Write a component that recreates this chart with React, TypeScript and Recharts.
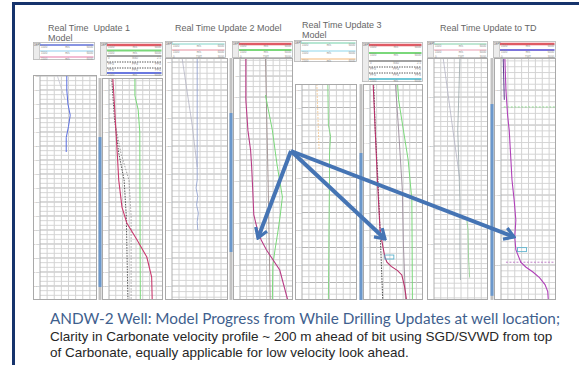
import React from 'react';
import { ScatterChart, Scatter, XAxis, YAxis, CartesianGrid, ReferenceLine } from 'recharts';

type Pt = { d: number; v: number };

// depth (m) at the bottom of every log track
const TD = 2500;

// ---- Real Time Update 1 : model ----
const p1Vint: Pt[] = [
  { d: 893, v: 47 }, { d: 1000, v: 47 }, { d: 1100, v: 49 }, { d: 1180, v: 53 },
  { d: 1260, v: 50 }, { d: 1340, v: 46 }, { d: 1443, v: 46 },
];
const p1Trend: Pt[] = [{ d: 893, v: 30 }, { d: 1070, v: 44 }];

// ---- Real Time Update 1 : processing ----
const p2Vel: Pt[] = [
  { d: 914, v: 7 }, { d: 1100, v: 10 }, { d: 1300, v: 13 }, { d: 1500, v: 16 },
  { d: 1643, v: 18 }, { d: 1836, v: 24 }, { d: 1950, v: 33 }, { d: 2071, v: 52 },
  { d: 2193, v: 70 }, { d: 2336, v: 79 }, { d: 2500, v: 80 },
];
const p2Low: Pt[] = [
  { d: 914, v: 5 }, { d: 1200, v: 10 }, { d: 1450, v: 18 }, { d: 1643, v: 28 },
  { d: 1900, v: 32 }, { d: 2500, v: 35 },
];
const p2High: Pt[] = [
  { d: 1250, v: 12 }, { d: 1450, v: 22 }, { d: 1643, v: 37 }, { d: 1900, v: 41 }, { d: 2500, v: 41 },
];
const p2Green: Pt[] = [
  { d: 914, v: 48 }, { d: 1040, v: 48 }, { d: 1140, v: 54 }, { d: 1300, v: 57 }, { d: 2500, v: 58 },
];
const p2Coverage = [1336, 2407];

// ---- Real Time Update 2 : model ----
const p3Trend: Pt[] = [{ d: 771, v: 18 }, { d: 1250, v: 36 }, { d: 1550, v: 45 }];
const p3Vint: Pt[] = [
  { d: 771, v: 45 }, { d: 1643, v: 45 }, { d: 1700, v: 43 }, { d: 1760, v: 46 },
  { d: 1820, v: 44 }, { d: 1880, v: 47 }, { d: 1940, v: 45 }, { d: 2000, v: 46 },
];

// ---- Real Time Update 2 : processing ----
const p4Vel: Pt[] = [
  { d: 771, v: 11 }, { d: 1070, v: 11 }, { d: 1290, v: 15 }, { d: 1430, v: 20 },
  { d: 1550, v: 22 }, { d: 1710, v: 24 }, { d: 1890, v: 26 }, { d: 2000, v: 33 },
  { d: 2071, v: 40 }, { d: 2143, v: 50 }, { d: 2286, v: 75 }, { d: 2500, v: 90 },
];
const p4Trend: Pt[] = [{ d: 771, v: 48 }, { d: 1643, v: 53 }, { d: 2500, v: 57 }];
const p4Green: Pt[] = [
  { d: 1036, v: 48 }, { d: 1286, v: 61 }, { d: 1536, v: 70 }, { d: 1764, v: 80 },
  { d: 1893, v: 76 }, { d: 2000, v: 72 }, { d: 2143, v: 66 }, { d: 2250, v: 62 }, { d: 2500, v: 61 },
];
const p4Coverage = [1164, 2157];

// ---- Real Time Update 3 : model ----
const p5Orange: Pt[] = [{ d: 957, v: 27 }, { d: 1430, v: 31 }];
const p5Green: Pt[] = [
  { d: 957, v: 47 }, { d: 1250, v: 48 }, { d: 1330, v: 52 }, { d: 1450, v: 50 },
  { d: 1643, v: 50 }, { d: 2000, v: 49 }, { d: 2500, v: 48 },
];

// ---- Real Time Update 3 : processing ----
const p6Dash: Pt[] = [
  { d: 957, v: 7 }, { d: 1300, v: 10 }, { d: 1643, v: 15 }, { d: 2000, v: 19 }, { d: 2500, v: 24 },
];
const p6Vel: Pt[] = [
  { d: 957, v: 6 }, { d: 1300, v: 10 }, { d: 1643, v: 14 }, { d: 2000, v: 19 },
  { d: 2071, v: 22 }, { d: 2193, v: 28 }, { d: 2230, v: 32 }, { d: 2260, v: 40 },
  { d: 2290, v: 52 }, { d: 2321, v: 60 }, { d: 2400, v: 65 }, { d: 2500, v: 69 },
];
const p6Trend: Pt[] = [
  { d: 957, v: 48 }, { d: 1286, v: 54 }, { d: 1714, v: 61 }, { d: 2100, v: 63 }, { d: 2500, v: 67 },
];
const p6Green: Pt[] = [
  { d: 957, v: 52 }, { d: 1070, v: 54 }, { d: 1286, v: 63 }, { d: 1500, v: 72 },
  { d: 1786, v: 79 }, { d: 2500, v: 80 },
];
const p6Boxes: Pt[] = [{ d: 2193, v: 28 }];
const p6Coverage = [1450, 2500];

// ---- Real Time Update to TD : model ----
const p7Trend: Pt[] = [{ d: 771, v: 17 }, { d: 1286, v: 35 }, { d: 1643, v: 48 }];
const p7Vint: Pt[] = [
  { d: 771, v: 48 }, { d: 1286, v: 44 }, { d: 1786, v: 48 }, { d: 2143, v: 48 }, { d: 2357, v: 49 },
];
const p7Green: Pt[] = [{ d: 1936, v: 61 }, { d: 2000, v: 63 }, { d: 2200, v: 64 }, { d: 2340, v: 66 }];

// ---- Real Time Update to TD : processing ----
const p8Vel: Pt[] = [
  { d: 771, v: 7 }, { d: 1000, v: 9 }, { d: 1180, v: 12 }, { d: 1290, v: 15 },
  { d: 1500, v: 18 }, { d: 1643, v: 20 }, { d: 1790, v: 24 }, { d: 1930, v: 27 },
  { d: 2050, v: 25 }, { d: 2140, v: 27 }, { d: 2230, v: 36 }, { d: 2264, v: 45 },
  { d: 2300, v: 58 }, { d: 2340, v: 70 }, { d: 2390, v: 80 }, { d: 2440, v: 85 }, { d: 2500, v: 86 },
];
const p8Top: Pt[] = [{ d: 771, v: 4 }, { d: 1070, v: 6 }];
const p8CarbTop: Pt[] = [{ d: 1121, v: 5 }, { d: 1121, v: 100 }];
const p8Bit: Pt[] = [{ d: 2230, v: 9 }, { d: 2230, v: 97 }];
const p8Boxes: Pt[] = [{ d: 2140, v: 30 }];
const p8Coverage = [1100, 2470];

// arrows, in slide units (0..579 x 0..365)
const arrowFrom = { x: 291, y: 151 };
const arrowTips = [
  { x: 258, y: 238 },
  { x: 385, y: 239 },
  { x: 514, y: 237 },
];

const titles = [
  { text: 'Real Time  Update 1', sub: 'Model', left: 48, top: 23 },
  { text: 'Real Time Update 2 Model', left: 175, top: 23 },
  { text: 'Real Time Update 3', sub: 'Model', left: 302, top: 20 },
  { text: 'Real Time Update to TD', left: 440, top: 23 },
];

// vertical grid divisions of each track
const valueTicks = [12.5, 25, 37.5, 50, 62.5, 75, 87.5];

const range = (start: number, end: number, step: number) => {
  const out: number[] = [];
  let t = Math.ceil(start / step - 1e-9) * step;
  for (; t <= end + 1e-9; t += step) out.push(+t.toFixed(2));
  return out;
};

const noDot = () => <g />;

const RED = '#e05a64';
const GREEN = '#7ad87a';
const ARROW = '#4574b4';

type HeaderRow = { y: number; color: string; w: number; dash?: string; labels: string[] };

type Curve = { data: Pt[]; color: string; width?: number; dash?: string };

type PanelSpec = {
  left: number;
  width: number;
  headLeft: number;
  headW: number;
  headTop: number;
  headH: number;
  rows: HeaderRow[];
  gridTop: number;
  dTop: number;
  step: number;
  minor: number;
  curves: Curve[];
  coverage?: number[];
  boxes?: Pt[];
};

const velLabels = ['1500', 'm/s', '6000'];
const ppgLabels = ['PPG', 'PPG', 'PPG'];

const panels: PanelSpec[] = [
  {
    left: 33, width: 64, headLeft: 33, headW: 62, headTop: 42, headH: 18,
    rows: [
      { y: 3, color: '#6070d8', w: 1.5, labels: velLabels },
      { y: 9, color: '#90d0f0', w: 1.2, labels: velLabels },
      { y: 15, color: '#e878a8', w: 1.2, labels: velLabels },
    ],
    gridTop: 75, dTop: 893, step: 100, minor: 100 / 3,
    curves: [
      { data: p1Trend, color: '#c4c4d0', width: 0.8 },
      { data: p1Vint, color: '#5a6ee0', width: 1 },
    ],
  },
  {
    left: 102, width: 61, headLeft: 100, headW: 63, headTop: 42, headH: 34,
    rows: [
      { y: 3, color: RED, w: 2.5, labels: velLabels },
      { y: 8.5, color: GREEN, w: 2, labels: velLabels },
      { y: 14, color: '#444', w: 1, labels: ['0', 'SGD', '2.5'] },
      { y: 20, color: '#333', w: 0.8, dash: '1.5 1', labels: ppgLabels },
      { y: 26, color: '#333', w: 0.8, dash: '1.5 1', labels: ppgLabels },
      { y: 31, color: '#6a78e0', w: 2, labels: velLabels },
    ],
    gridTop: 78, dTop: 914, step: 100, minor: 100 / 3,
    curves: [
      { data: p2High, color: '#8a8a8a', width: 0.8, dash: '1.5 1.5' },
      { data: p2Low, color: '#444', width: 0.9, dash: '1.5 1.2' },
      { data: p2Green, color: GREEN, width: 1 },
      { data: p2Vel, color: '#c93a6e', width: 1.1 },
    ],
    coverage: p2Coverage,
  },
  {
    left: 165, width: 63, headLeft: 165, headW: 61, headTop: 41, headH: 17,
    rows: [
      { y: 3, color: '#80d4c8', w: 1.2, labels: velLabels },
      { y: 9, color: '#e890a0', w: 1.2, labels: velLabels },
      { y: 14, color: 'none', w: 0, labels: ['0', 'TWT', '3000'] },
    ],
    gridTop: 58, dTop: 771, step: 200, minor: 40,
    curves: [
      { data: p3Trend, color: '#b4b4c4', width: 0.8 },
      { data: p3Vint, color: '#93a3cf', width: 0.9 },
    ],
  },
  {
    left: 233, width: 60, headLeft: 232, headW: 61, headTop: 41, headH: 17,
    rows: [
      { y: 3, color: RED, w: 2.5, labels: velLabels },
      { y: 9, color: GREEN, w: 1.8, labels: velLabels },
      { y: 14, color: 'none', w: 0, labels: ['0', 'TWT', '3000'] },
    ],
    gridTop: 58, dTop: 771, step: 150, minor: 37.5,
    curves: [
      { data: p4Trend, color: '#9c8c8c', width: 0.9 },
      { data: p4Green, color: GREEN, width: 1 },
      { data: p4Vel, color: '#b83c86', width: 1.1 },
    ],
    coverage: p4Coverage,
  },
  {
    left: 295, width: 62, headLeft: 294, headW: 63, headTop: 40, headH: 22,
    rows: [
      { y: 3, color: '#70d0a8', w: 1.2, labels: velLabels },
      { y: 11, color: '#90d8ec', w: 1.2, labels: velLabels },
      { y: 19, color: '#f4b878', w: 1.2, labels: velLabels },
    ],
    gridTop: 84, dTop: 957, step: 125, minor: 125 / 3,
    curves: [
      { data: p5Orange, color: '#f2c48c', width: 0.8, dash: '2 1' },
      { data: p5Green, color: '#86d486', width: 1 },
    ],
  },
  {
    left: 363, width: 60, headLeft: 362, headW: 61, headTop: 42, headH: 40,
    rows: [
      { y: 3, color: RED, w: 2.5, labels: velLabels },
      { y: 11, color: GREEN, w: 2, labels: velLabels },
      { y: 19, color: '#444', w: 1, labels: ['0', 'SGD', '2.5'] },
      { y: 25, color: '#333', w: 0.8, dash: '1.5 1', labels: ppgLabels },
      { y: 31, color: '#333', w: 0.8, dash: '1.5 1', labels: ppgLabels },
      { y: 37, color: '#70c8d8', w: 2, labels: velLabels },
    ],
    gridTop: 84, dTop: 957, step: 125, minor: 125 / 3,
    curves: [
      { data: p6Trend, color: '#9c8c9c', width: 0.9 },
      { data: p6Green, color: GREEN, width: 1 },
      { data: p6Dash, color: '#333', width: 0.9, dash: '1.5 1.2' },
      { data: p6Vel, color: '#b8306a', width: 1.1 },
    ],
    coverage: p6Coverage,
    boxes: p6Boxes,
  },
  {
    left: 427, width: 61, headLeft: 427, headW: 61, headTop: 41, headH: 17,
    rows: [
      { y: 3, color: '#80d0a8', w: 1.2, labels: velLabels },
      { y: 9, color: '#eaa0b4', w: 1.2, labels: velLabels },
      { y: 14, color: 'none', w: 0, labels: ['0', 'TWT', '3000'] },
    ],
    gridTop: 58, dTop: 771, step: 350, minor: 35,
    curves: [
      { data: p7Trend, color: '#b4b4c4', width: 0.8 },
      { data: p7Vint, color: '#a2aeb0', width: 0.9 },
      { data: p7Green, color: '#94d094', width: 0.9 },
    ],
  },
  {
    left: 494, width: 62, headLeft: 493, headW: 63, headTop: 41, headH: 17,
    rows: [
      { y: 3, color: RED, w: 2.5, labels: velLabels },
      { y: 9, color: '#7c74dc', w: 2, labels: velLabels },
      { y: 14, color: 'none', w: 0, labels: ['0', 'TWT', '3000'] },
    ],
    gridTop: 58, dTop: 771, step: 250, minor: 250 / 6,
    curves: [
      { data: p8CarbTop, color: '#8ed88e', width: 1, dash: '2 1.5' },
      { data: p8Bit, color: '#c080c8', width: 1, dash: '2 1.5' },
      { data: p8Top, color: '#5a3a8a', width: 1 },
      { data: p8Vel, color: '#b040b8', width: 1.1 },
    ],
    coverage: p8Coverage,
    boxes: p8Boxes,
  },
];

const Header = ({ width, height, rows }: { width: number; height: number; rows: HeaderRow[] }) => (
  <svg width={width} height={height} style={{ display: 'block' }}>
    <rect x={0.5} y={0.5} width={width - 1} height={height - 1} fill="#fff" stroke="#b4b4b4" strokeWidth={0.8} />
    <rect x={0.5} y={0.5} width={6} height={height - 1} fill="#ececec" stroke="#b4b4b4" strokeWidth={0.6} />
    <text x={1} y={3.5} fontSize={2.6} fill="#666" fontFamily="Liberation Sans">DEPT</text>
    {rows.map((r, i) => (
      <g key={i}>
        {r.color !== 'none' && (
          <line x1={7} x2={width - 1.5} y1={r.y} y2={r.y} stroke={r.color} strokeWidth={r.w} strokeDasharray={r.dash} />
        )}
        <text x={8} y={r.y + 3.2} fontSize={2.8} fill="#8a8a8a" fontFamily="Liberation Sans">{r.labels[0]}</text>
        <text x={(width + 7) / 2} y={r.y + 3.2} fontSize={2.8} fill="#8a8a8a" textAnchor="middle" fontFamily="Liberation Sans">{r.labels[1]}</text>
        <text x={width - 2} y={r.y + 3.2} fontSize={2.8} fill="#8a8a8a" textAnchor="end" fontFamily="Liberation Sans">{r.labels[2]}</text>
      </g>
    ))}
  </svg>
);

const BoxMark = (props: any) => {
  const { cx, cy } = props;
  if (cx == null || cy == null) return <g />;
  return <rect x={cx} y={cy - 2} width={9} height={4} fill="none" stroke="#5fb4cf" strokeWidth={0.9} />;
};

const CoverageBar = ({ p, h }: { p: PanelSpec; h: number }) => (
  <div style={{ position: 'absolute', left: p.left - 4, top: p.gridTop }}>
    <ScatterChart width={4} height={h} margin={{ top: 0, right: 0, bottom: 0, left: 0 }}>
      <XAxis type="number" dataKey="v" domain={[0, 1]} hide />
      <YAxis type="number" dataKey="d" domain={[p.dTop, TD]} reversed hide />
      <Scatter
        data={[{ d: p.dTop, v: 0.5 }, { d: TD, v: 0.5 }]}
        line={{ stroke: '#c2c2c2', strokeWidth: 3 }}
        shape={noDot}
        isAnimationActive={false}
      />
      <Scatter
        data={[{ d: p.coverage![0], v: 0.5 }, { d: p.coverage![1], v: 0.5 }]}
        line={{ stroke: '#6b98cc', strokeWidth: 3 }}
        shape={noDot}
        isAnimationActive={false}
      />
    </ScatterChart>
  </div>
);

const LogPanel = ({ p }: { p: PanelSpec }) => {
  const h = 300 - p.gridTop;
  const majorAll = range(p.dTop, TD, p.step);
  // depth labels, kept clear of the bottom edge
  const major = majorAll.filter((t) => t < TD - p.step * 0.3);
  const minor = range(p.dTop, TD, p.minor).filter(
    (t) => t > p.dTop && t < TD && !majorAll.some((m) => Math.abs(m - t) < 0.5),
  );
  return (
    <>
      <div style={{ position: 'absolute', left: p.headLeft, top: p.headTop }}>
        <Header width={p.headW} height={p.headH} rows={p.rows} />
      </div>
      {p.coverage && <CoverageBar p={p} h={h} />}
      <div style={{ position: 'absolute', left: p.left, top: p.gridTop, width: p.width, height: h }}>
        <ScatterChart width={p.width} height={h} margin={{ top: 0, right: 0, bottom: 0, left: 0 }}>
          <XAxis type="number" dataKey="v" domain={[0, 100]} hide />
          <YAxis
            type="number"
            dataKey="d"
            domain={[p.dTop, TD]}
            reversed
            allowDataOverflow
            ticks={major}
            interval={0}
            width={7}
            tick={{ fontSize: 2.8, fill: '#9c9c9c' }}
            tickLine={false}
            tickSize={0}
            tickMargin={0.6}
            axisLine={{ stroke: '#b0b0b0' }}
          />
          {minor.map((t) => (
            <ReferenceLine key={`m${t}`} y={t} stroke="#d6d6d6" strokeWidth={1} />
          ))}
          {valueTicks.map((t) => (
            <ReferenceLine key={`v${t}`} x={t} stroke="#d2d2d2" strokeWidth={1} />
          ))}
          <CartesianGrid vertical={false} stroke="#b4b4b4" strokeWidth={1} />
          {p.curves.map((c, i) => (
            <Scatter
              key={i}
              data={c.data}
              line={{ stroke: c.color, strokeWidth: c.width ?? 1, strokeDasharray: c.dash }}
              shape={noDot}
              isAnimationActive={false}
            />
          ))}
          {p.boxes && <Scatter data={p.boxes} shape={BoxMark} isAnimationActive={false} />}
        </ScatterChart>
        <div style={{ position: 'absolute', inset: 0, border: '1px solid #a9a9a9', pointerEvents: 'none' }} />
      </div>
    </>
  );
};

const Arrows = () => (
  <div style={{ position: 'absolute', left: 0, top: 0, pointerEvents: 'none' }}>
    <ScatterChart width={579} height={365} margin={{ top: 0, right: 0, bottom: 0, left: 0 }}>
      <defs>
        <marker id="chev" viewBox="0 0 13 15" markerWidth={13} markerHeight={15} refX={11} refY={7.5} orient="auto" markerUnits="userSpaceOnUse">
          <path d="M1.5,1.5 L11,7.5 L1.5,13.5" fill="none" stroke={ARROW} strokeWidth={3.2} />
        </marker>
      </defs>
      <XAxis type="number" dataKey="x" domain={[0, 579]} hide />
      <YAxis type="number" dataKey="y" domain={[0, 365]} reversed hide />
      {arrowTips.map((t, i) => (
        <Scatter
          key={i}
          data={[arrowFrom, t]}
          line={{ stroke: ARROW, strokeWidth: 4, markerEnd: 'url(#chev)' }}
          shape={noDot}
          isAnimationActive={false}
        />
      ))}
    </ScatterChart>
  </div>
);

export default function App() {
  return (
    <div style={{ position: 'absolute', left: 0, top: 0, width: 579, height: 365, background: '#fff', overflow: 'hidden' }}>
      {/* slide frame */}
      <div style={{ position: 'absolute', left: 12, top: 2, width: 580, height: 380, borderTop: '3px solid #16336c', borderLeft: '3px solid #16336c' }} />
      {titles.map((t, i) => (
        <div key={i} style={{ position: 'absolute', left: t.left, top: t.top, font: '9px "Liberation Sans", Arial, sans-serif', color: '#666', lineHeight: '10px', whiteSpace: 'pre' }}>
          {t.text}
          {t.sub && <div>{t.sub}</div>}
        </div>
      ))}
      {panels.map((p, i) => (
        <LogPanel key={i} p={p} />
      ))}
      <Arrows />
      <div style={{ position: 'absolute', left: 50, top: 309, font: '15.3px Lato, "Open Sans", sans-serif', color: '#3f5f8e', whiteSpace: 'nowrap' }}>
        ANDW-2 Well: Model Progress from While Drilling Updates at well location;
      </div>
      <div style={{ position: 'absolute', left: 50, top: 329, font: '13.5px "Liberation Sans", Arial, sans-serif', color: '#262626', whiteSpace: 'nowrap', lineHeight: '16px' }}>
        Clarity in Carbonate velocity profile ~ 200 m ahead of bit using SGD/SVWD from top
        <br />
        of Carbonate, equally applicable for low velocity look ahead.
      </div>
    </div>
  );
}
